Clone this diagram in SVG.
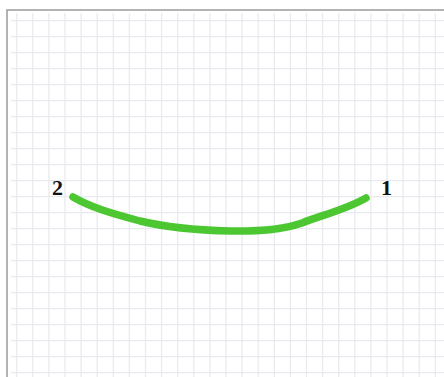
<svg xmlns="http://www.w3.org/2000/svg" width="444" height="377" viewBox="0 0 444 377">
<defs>
<style>
.grid{fill:none;stroke:#e8eaf0;stroke-width:1.3}
.lbl{font-family:"Liberation Serif","DejaVu Serif",serif;font-weight:bold;font-size:22px;fill:#111}
.curve{fill:none;stroke:#4cc732;stroke-width:7.5;stroke-linecap:round;stroke-linejoin:round}
</style>
</defs>
<rect width="444" height="377" fill="#fff"/>
<path class="grid" d="M16.7,13V377M32.8,13V377M48.9,13V377M65,13V377M81.1,13V377M97.2,13V377M113.3,13V377M129.4,13V377M145.5,13V377M161.6,13V377M177.7,13V377M193.8,13V377M209.9,13V377M226,13V377M242.1,13V377M258.2,13V377M274.3,13V377M290.4,13V377M306.5,13V377M322.6,13V377M338.7,13V377M354.8,13V377M370.9,13V377M387,13V377M403.1,13V377M419.2,13V377M435.3,13V377
M11,20.7H444M11,36.7H444M11,52.7H444M11,68.7H444M11,84.7H444M11,100.7H444M11,116.7H444M11,132.7H444M11,148.7H444M11,164.7H444M11,180.7H444M11,196.7H444M11,212.7H444M11,228.7H444M11,244.7H444M11,260.7H444M11,276.7H444M11,292.7H444M11,308.7H444M11,324.7H444M11,340.7H444M11,356.7H444M11,372.7H444"/>
<path d="M7,377V10H444" fill="none" stroke="#9a9a9a" stroke-width="1.5"/>
<g id="connectors">
<path class="curve" d="M73,197 C90,207 110,213 140,221 C165,227 190,230 230,231 C260,231.5 282,230 302,223 C322,215 345,210 366,198"/>
</g>
<g id="node-2"><text class="lbl" x="57.5" y="195" text-anchor="middle">2</text></g>
<g id="node-1"><text class="lbl" x="386.5" y="195" text-anchor="middle">1</text></g>
</svg>
